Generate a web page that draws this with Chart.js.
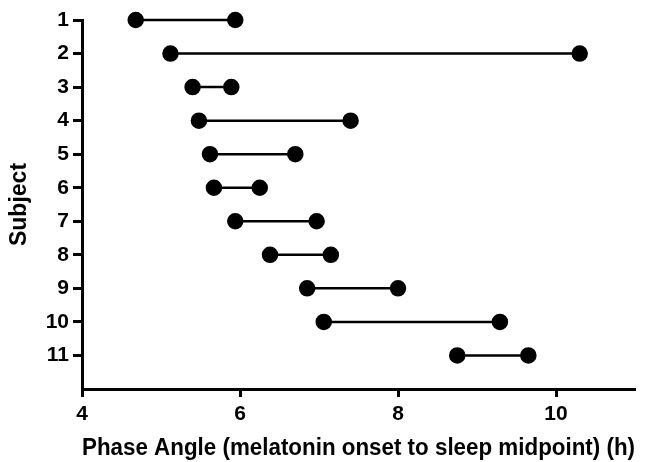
<!DOCTYPE html>
<html><head><meta charset="utf-8">
<script src="https://cdn.jsdelivr.net/npm/chart.js@4"></script>
<style>html,body{margin:0;padding:0;background:#fff}#wrap{width:656px;height:462px}</style>
</head><body><div id="wrap"><canvas id="c"></canvas></div>
<script>
const subjects = [1,2,3,4,5,6,7,8,9,10,11];
const onsetStart = [4.68,5.12,5.40,5.48,5.62,5.67,5.94,6.38,6.85,7.06,8.75];
const onsetEnd   = [5.94,10.30,5.89,7.40,6.70,6.25,6.97,7.15,8.00,9.29,9.65];
const xTicks = [4,6,8,10];
const yTicks = [1,2,3,4,5,6,7,8,9,10,11];

const datasets = subjects.map((s,i)=>({
  label: 'Subject '+s,
  data: [{x:onsetStart[i], y:s},{x:onsetEnd[i], y:s}],
  borderColor:'#000', backgroundColor:'#000', borderWidth:2.5,
  pointRadius:7, pointHoverRadius:7, showLine:true, clip:false
}));
const F = "'Liberation Sans', Arial, Helvetica, sans-serif";
new Chart(document.getElementById('c'), {
  type:'scatter',
  data:{datasets},
  options:{
    responsive:true, maintainAspectRatio:false, animation:false,
    layout:{padding:{top:20,right:21,bottom:0,left:0}},
    plugins:{legend:{display:false},tooltip:{enabled:false}},
    scales:{
      x:{type:'linear',min:4,max:11,
        afterBuildTicks:(sc)=>{sc.ticks=xTicks.map(v=>({value:v}));},
        afterFit:(sc)=>{sc.height=73;},
        grid:{drawOnChartArea:false,tickLength:8,tickWidth:3,tickColor:'#000'},
        border:{color:'#000',width:3},
        ticks:{color:'#000',font:{family:F,size:21,weight:'bold'},padding:5,maxRotation:0},
        title:{display:true,text:'Phase Angle (melatonin onset to sleep midpoint) (h)',color:'#000',font:{family:F,size:23,weight:'bold'},padding:{top:4,bottom:0}}
      },
      y:{type:'linear',min:1,max:12,reverse:true,
        afterBuildTicks:(sc)=>{sc.ticks=yTicks.map(v=>({value:v}));},
        afterFit:(sc)=>{sc.width=82;},
        grid:{drawOnChartArea:false,tickLength:9,tickWidth:3,tickColor:'#000'},
        border:{color:'#000',width:3},
        ticks:{color:'#000',font:{family:F,size:21,weight:'bold'},padding:4},
        title:{display:true,text:'Subject',color:'#000',font:{family:F,size:23,weight:'bold'},padding:{top:6,bottom:4}}
      }
    }
  }
});
</script></body></html>
